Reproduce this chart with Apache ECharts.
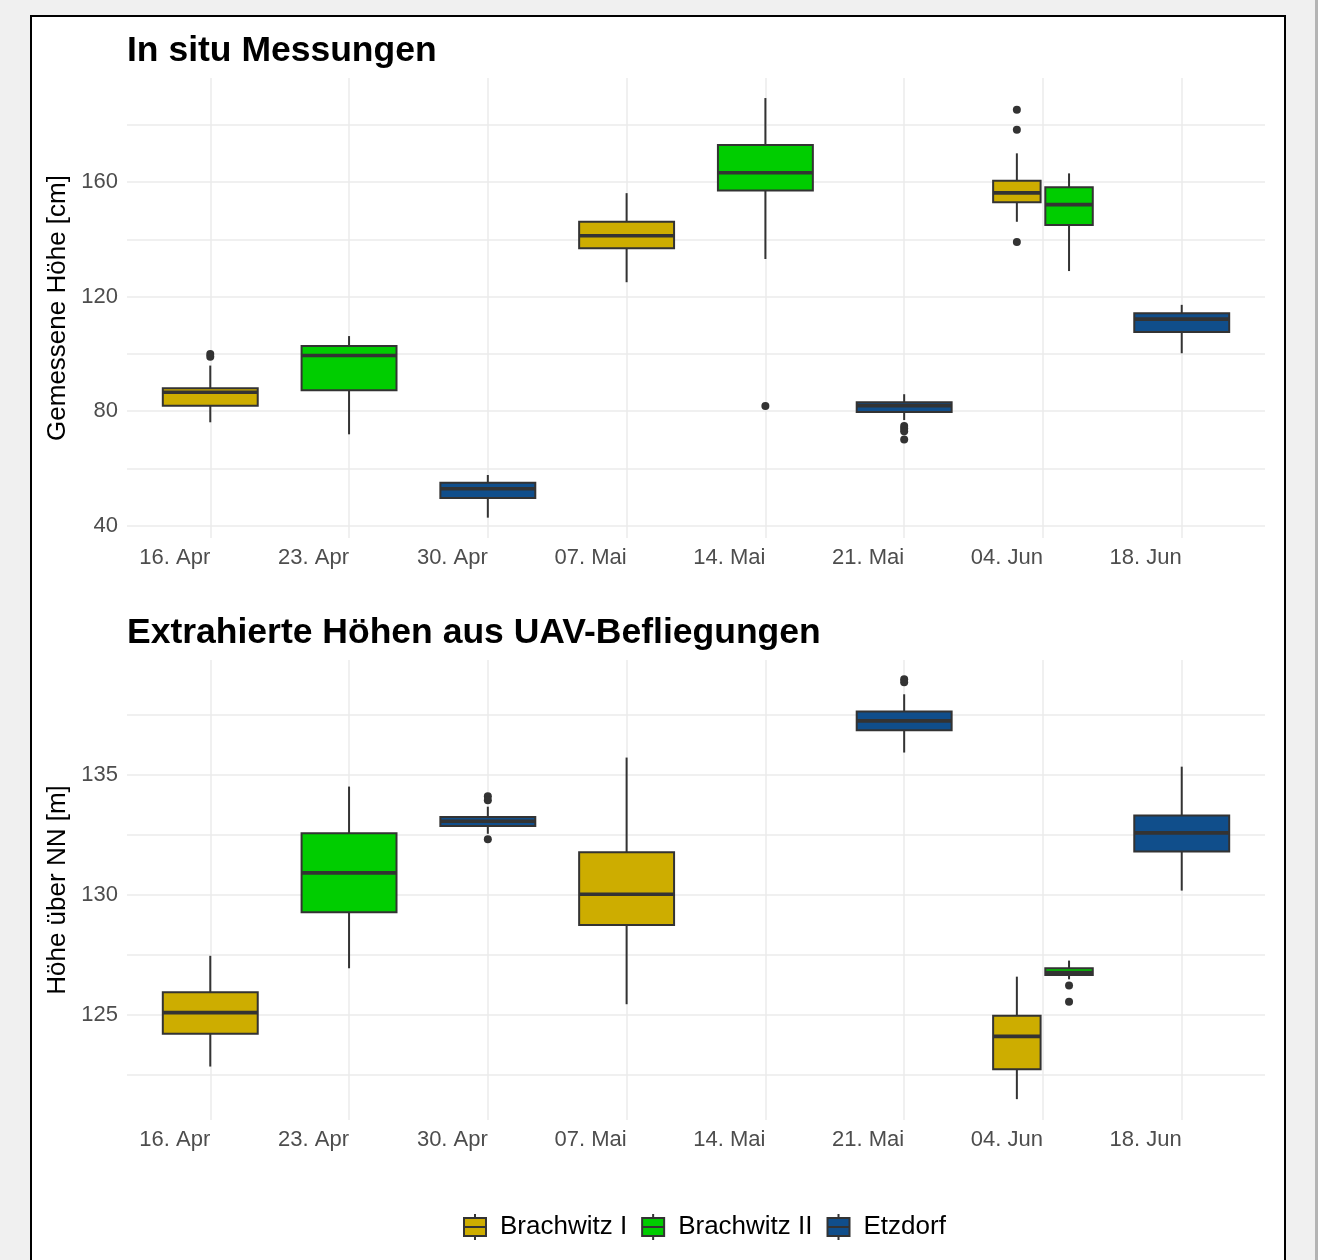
<!DOCTYPE html>
<html>
<head>
<meta charset="utf-8">
<script src="https://cdn.jsdelivr.net/npm/echarts@6/dist/echarts.min.js"></script>
<style>
html,body{margin:0;padding:0;width:1335px;height:1260px;overflow:hidden;background:#f0f0f0;}
#frame{position:absolute;left:30px;top:15px;width:1252px;height:1260px;background:#fff;border:2px solid #000;}
#sb{position:absolute;left:1315px;top:0;width:3px;height:1260px;background:#b4b4b4;}
#sbw{position:absolute;left:1318px;top:0;width:17px;height:1260px;background:#fff;}
#chart{position:absolute;left:0;top:0;width:1335px;height:1260px;}
</style>
</head>
<body>
<div id="frame"></div>
<div id="sb"></div>
<div id="sbw"></div>
<div id="chart"></div>
<script>
// ---------------- data ----------------
const categories = ['16. Apr', '23. Apr', '30. Apr', '07. Mai', '14. Mai', '21. Mai', '04. Jun', '18. Jun'];
const sites = ['Brachwitz I', 'Brachwitz II', 'Etzdorf'];
const siteColors = ['#CDAD00', '#00CD00', '#104E8B'];
const panelTitles = ['In situ Messungen', 'Extrahierte Höhen aus UAV-Befliegungen'];
const axisTitles = ['Gemessene Höhe [cm]', 'Höhe über NN [m]'];

// boxes: [categoryIndex, lowerWhisker, q1, median, q3, upperWhisker]
const insituBrachwitzI  = [[0, 76.1, 81.9, 86.6, 88.0, 95.9], [3, 125.0, 136.9, 141.2, 146.1, 156.1], [6, 146.1, 152.9, 156.2, 160.4, 170.0]];
const insituBrachwitzII = [[1, 71.9, 87.3, 99.4, 102.7, 106.2], [4, 133.1, 157.0, 163.2, 172.9, 189.3], [6, 128.9, 145.0, 152.1, 158.2, 163.0]];
const insituEtzdorf     = [[2, 42.8, 49.7, 52.9, 55.0, 57.7], [5, 76.9, 79.7, 81.9, 83.1, 85.9], [7, 100.2, 107.6, 112.1, 114.2, 117.1]];
// outliers: [categoryIndex, value]
const insituOutBrachwitzI  = [[0, 99.9], [0, 99.0], [6, 185.2], [6, 178.2], [6, 139.0]];
const insituOutBrachwitzII = [[4, 81.8]];
const insituOutEtzdorf     = [[5, 74.8], [5, 73.9], [5, 73.0], [5, 70.1]];

const uavBrachwitzI  = [[0, 122.84, 124.21, 125.09, 125.94, 127.46], [3, 125.44, 128.75, 130.03, 131.78, 135.73], [6, 121.48, 122.73, 124.10, 124.96, 126.59]];
const uavBrachwitzII = [[1, 126.94, 129.28, 130.92, 132.57, 134.52], [6, 126.48, 126.66, 126.76, 126.94, 127.26]];
const uavEtzdorf     = [[2, 132.55, 132.88, 133.07, 133.25, 133.68], [5, 135.94, 136.87, 137.26, 137.65, 138.37], [7, 130.18, 131.81, 132.59, 133.31, 135.35]];
const uavOutBrachwitzI  = [];
const uavOutBrachwitzII = [[6, 126.22], [6, 125.54]];
const uavOutEtzdorf     = [[2, 134.12], [2, 133.95], [2, 132.32], [5, 139.0], [5, 138.87]];

const yRanges = [[35.7, 196.3], [120.61, 139.8]];
const yMinorSteps = [20, 2.5];
const yLabelSteps = [40, 5];

// ---------------- styling ----------------
const FONT = '"Liberation Sans", Arial, Helvetica, sans-serif';
const TXT = '#4d4d4d';
const GRIDC = '#ebebeb';
const EDGE = '#333333';
const BOX_W = 0.684;
const DODGE_GAP = 0.034;

const panels = [
  {boxes: [insituBrachwitzI, insituBrachwitzII, insituEtzdorf], outs: [insituOutBrachwitzI, insituOutBrachwitzII, insituOutEtzdorf]},
  {boxes: [uavBrachwitzI, uavBrachwitzII, uavEtzdorf], outs: [uavOutBrachwitzI, uavOutBrachwitzII, uavOutEtzdorf]}
];

// which sites share a category in each panel (for dodging)
const present = panels.map(p => {
  const m = {};
  p.boxes.forEach((arr, s) => arr.forEach(d => { (m[d[0]] = m[d[0]] || []).push(s); }));
  return m;
});
function dodge(pi, s, cat) {
  const list = present[pi][cat] || [s];
  const n = list.length, k = Math.max(0, list.indexOf(s));
  const w = BOX_W / n;
  const step = w + (n > 1 ? DODGE_GAP : 0);
  return {dx: (k - (n - 1) / 2) * step, w: w};
}

function boxRender(pi, s) {
  return function (params, api) {
    const cat = api.value(0);
    const d = dodge(pi, s, cat);
    const x = cat + d.dx;
    const half = api.size([d.w, 0])[0] / 2;
    const lo = api.coord([x, api.value(1)]);
    const q1 = api.coord([x, api.value(2)]);
    const md = api.coord([x, api.value(3)]);
    const q3 = api.coord([x, api.value(4)]);
    const hi = api.coord([x, api.value(5)]);
    const cx = md[0];
    return {type: 'group', children: [
      {type: 'line', shape: {x1: cx, y1: hi[1], x2: cx, y2: q3[1]}, style: {stroke: EDGE, lineWidth: 2}},
      {type: 'line', shape: {x1: cx, y1: q1[1], x2: cx, y2: lo[1]}, style: {stroke: EDGE, lineWidth: 2}},
      {type: 'rect', shape: {x: cx - half, y: q3[1], width: 2 * half, height: q1[1] - q3[1]},
        style: {fill: api.visual('color'), stroke: EDGE, lineWidth: 2}},
      {type: 'line', shape: {x1: cx - half, y1: md[1], x2: cx + half, y2: md[1]}, style: {stroke: EDGE, lineWidth: 3.6}}
    ]};
  };
}
function outRender(pi, s) {
  return function (params, api) {
    const cat = api.value(0);
    const d = dodge(pi, s, cat);
    const p = api.coord([cat + d.dx, api.value(1)]);
    return {type: 'circle', shape: {cx: p[0], cy: p[1], r: 4}, style: {fill: EDGE}};
  };
}

const grids = [
  {left: 127, right: 70, top: 78, height: 460},
  {left: 127, right: 70, top: 660, height: 460}
];

const xAxes = [0, 1].map(gi => ({
  type: 'value', gridIndex: gi, min: -0.6, max: 7.6, splitNumber: 8, minInterval: 1, maxInterval: 1,
  axisLine: {show: false}, axisTick: {show: false},
  splitLine: {show: true, showMinLine: false, showMaxLine: false, lineStyle: {color: GRIDC, width: 1.5}},
  axisLabel: {
    formatter: v => { const r = Math.round(v); return (Math.abs(v - r) < 1e-6 && r >= 0 && r < categories.length) ? categories[r] : ''; },
    align: 'right', margin: 9, fontSize: 22, color: TXT, fontFamily: FONT
  }
}));

const yAxes = [0, 1].map(gi => ({
  type: 'value', gridIndex: gi, min: yRanges[gi][0], max: yRanges[gi][1],
  splitNumber: 8, minInterval: yMinorSteps[gi], maxInterval: yMinorSteps[gi],
  name: axisTitles[gi], nameLocation: 'middle', nameGap: 47,
  nameTextStyle: {fontSize: 26, color: '#000', fontFamily: FONT},
  axisLine: {show: false}, axisTick: {show: false},
  splitLine: {show: true, showMinLine: false, showMaxLine: false, lineStyle: {color: GRIDC, width: 1.5}},
  axisLabel: {
    formatter: v => { const q = v / yLabelSteps[gi]; return Math.abs(q - Math.round(q)) < 1e-6 ? String(Math.round(v)) : ''; },
    margin: 9, fontSize: 22, color: TXT, fontFamily: FONT
  }
}));

const series = [];
panels.forEach((p, pi) => {
  p.boxes.forEach((arr, s) => {
    series.push({
      type: 'custom', name: sites[s], xAxisIndex: pi, yAxisIndex: pi,
      itemStyle: {color: siteColors[s]},
      renderItem: boxRender(pi, s), encode: {x: 0, y: [1, 2, 3, 4, 5]}, data: arr
    });
  });
});
panels.forEach((p, pi) => {
  p.outs.forEach((arr, s) => {
    series.push({
      type: 'custom', name: sites[s], xAxisIndex: pi, yAxisIndex: pi,
      itemStyle: {color: siteColors[s]},
      renderItem: outRender(pi, s), encode: {x: 0, y: 1}, data: arr
    });
  });
});

const chart = echarts.init(document.getElementById('chart'), null, {renderer: 'canvas'});
chart.setOption({
  animation: false,
  backgroundColor: 'transparent',
  textStyle: {fontFamily: FONT},
  grid: grids,
  xAxis: xAxes,
  yAxis: yAxes,
  graphic: [
    {type: 'text', left: 127, top: 33, style: {text: panelTitles[0], font: 'bold 35.5px ' + FONT, fill: '#000'}},
    {type: 'text', left: 127, top: 615, style: {text: panelTitles[1], font: 'bold 35.5px ' + FONT, fill: '#000'}}
  ],
  legend: {
    data: sites, left: 458, top: 1208, orient: 'horizontal',
    icon: 'path://M12,0L12,4M1,4L23,4L23,22L1,22ZM1,13L23,13M12,22L12,26',
    itemWidth: 24, itemHeight: 26, itemGap: 14, selectedMode: false,
    itemStyle: {borderColor: EDGE, borderWidth: 2},
    textStyle: {fontSize: 26, color: '#000', fontFamily: FONT, padding: [0, 0, 0, 8]}
  },
  series: series
});
</script>
</body>
</html>
